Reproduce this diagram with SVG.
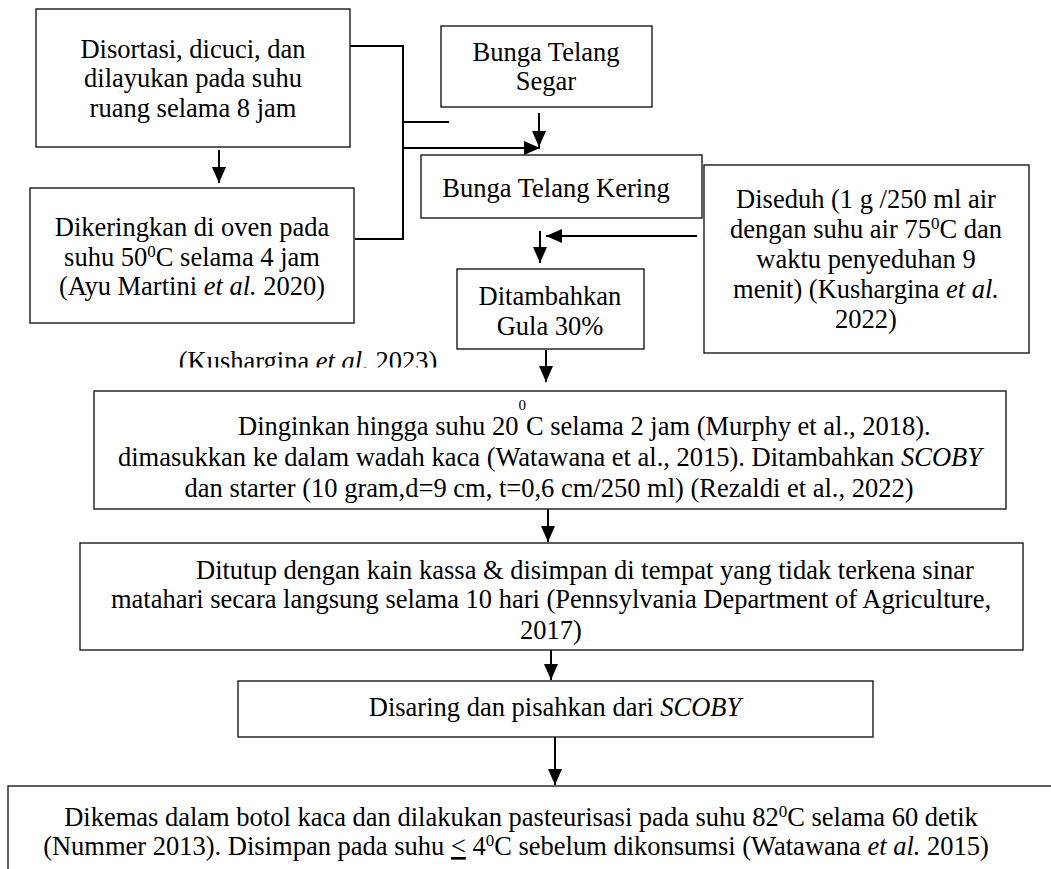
<svg xmlns="http://www.w3.org/2000/svg" width="1051" height="869" viewBox="0 0 1051 869">
<style>
.box{fill:#fff;stroke:#1a1a1a;stroke-width:1.4}
.t{font-family:'Liberation Serif','Times New Roman',serif;font-size:26.5px;fill:#000}
.m{text-anchor:middle}
.i{font-style:italic}
.c{fill:none;stroke:#000;stroke-width:2}
.sup{font-size:17px}
</style>
<defs>
<marker id="ah" markerUnits="userSpaceOnUse" markerWidth="16" markerHeight="14" refX="16" refY="7" orient="auto">
<path d="M0,0 L16,7 L0,14 z" fill="#000"/>
</marker>
<clipPath id="kclip"><rect x="0" y="340" width="500" height="27.5"/></clipPath>
</defs>
<rect width="1051" height="869" fill="#fff"/>

<g id="n1">
<rect class="box" x="36" y="9" width="314" height="138"/>
<text class="t m" x="193" y="58">Disortasi, dicuci, dan</text>
<text class="t m" x="193" y="87">dilayukan pada suhu</text>
<text class="t m" x="193" y="117">ruang selama 8 jam</text>
</g>

<g id="n2">
<rect class="box" x="30" y="188" width="324" height="135"/>
<text class="t m" x="192" y="236">Dikeringkan di oven pada</text>
<text class="t m" x="192" y="266">suhu 50<tspan class="sup" dy="-9">0</tspan><tspan dy="9">C selama 4 jam</tspan></text>
<text class="t m" x="192" y="295">(Ayu Martini <tspan class="i">et al.</tspan> 2020)</text>
</g>

<g id="n3">
<rect class="box" x="441" y="26" width="211" height="81"/>
<text class="t m" x="546" y="61">Bunga Telang</text>
<text class="t m" x="546" y="90">Segar</text>
</g>

<g id="n4">
<rect class="box" x="421" y="155" width="281" height="63"/>
<text class="t m" x="556" y="197">Bunga Telang Kering</text>
</g>

<g id="n5">
<rect class="box" x="704" y="165" width="325" height="188"/>
<text class="t m" x="866" y="208">Diseduh (1 g /250 ml air</text>
<text class="t m" x="866" y="238">dengan suhu air 75<tspan class="sup" dy="-9">0</tspan><tspan dy="9">C dan</tspan></text>
<text class="t m" x="866" y="268">waktu penyeduhan 9</text>
<text class="t m" x="866" y="298">menit) (Kushargina <tspan class="i">et al.</tspan></text>
<text class="t m" x="866" y="328">2022)</text>
</g>

<g id="n6">
<rect class="box" x="457" y="269" width="187" height="80"/>
<text class="t m" x="550" y="305">Ditambahkan</text>
<text class="t m" x="550" y="335">Gula 30%</text>
</g>

<g id="n7">
<text class="t m" x="308" y="370" clip-path="url(#kclip)">(Kushargina <tspan class="i">et al.</tspan> 2023)</text>
</g>

<g id="n8">
<rect class="box" x="94" y="391" width="912" height="118"/>
<text class="t" x="238" y="435">Dinginkan hingga suhu 20<tspan font-size="15" dy="-25">0</tspan><tspan dy="25">C selama 2 jam (Murphy et al., 2018).</tspan></text>
<text class="t m" x="550" y="466">dimasukkan ke dalam wadah kaca (Watawana et al., 2015). Ditambahkan <tspan class="i">SCOBY</tspan></text>
<text class="t m" x="549" y="497">dan starter (10 gram,d=9 cm, t=0,6 cm/250 ml) (Rezaldi et al., 2022)</text>
</g>

<g id="n9">
<rect class="box" x="80" y="543" width="943" height="107"/>
<text class="t" x="196" y="579">Ditutup dengan kain kassa &amp; disimpan di tempat yang tidak terkena sinar</text>
<text class="t m" x="551" y="608">matahari secara langsung selama 10 hari (Pennsylvania Department of Agriculture,</text>
<text class="t m" x="551" y="639">2017)</text>
</g>

<g id="n10">
<rect class="box" x="238" y="681" width="635" height="56"/>
<text class="t m" x="555" y="716">Disaring dan pisahkan dari <tspan class="i">SCOBY</tspan></text>
</g>

<g id="n11">
<rect class="box" x="8" y="786" width="1060" height="100"/>
<text class="t m" x="521" y="826">Dikemas dalam botol kaca dan dilakukan pasteurisasi pada suhu 82<tspan class="sup" dy="-9">0</tspan><tspan dy="9">C selama 60 detik</tspan></text>
<text class="t m" x="516" y="855">(Nummer 2013). Disimpan pada suhu <tspan text-decoration="underline">&lt;</tspan> 4<tspan class="sup" dy="-9">0</tspan><tspan dy="9">C sebelum dikonsumsi (Watawana </tspan><tspan class="i">et al.</tspan> 2015)</text>
</g>

<g id="connectors">
<line class="c" x1="219" y1="150" x2="219" y2="183" marker-end="url(#ah)"/>
<polyline class="c" points="350,46 403,46 403,239 355,239"/>
<line class="c" x1="403" y1="122" x2="449" y2="122"/>
<line class="c" x1="403" y1="148" x2="540" y2="148" marker-end="url(#ah)"/>
<line class="c" x1="539" y1="113" x2="539" y2="147" marker-end="url(#ah)"/>
<line class="c" x1="697" y1="236" x2="546" y2="236" marker-end="url(#ah)"/>
<line class="c" x1="540" y1="231" x2="540" y2="263" marker-end="url(#ah)"/>
<line class="c" x1="546" y1="350" x2="546" y2="382" marker-end="url(#ah)"/>
<line class="c" x1="548" y1="509" x2="548" y2="542" marker-end="url(#ah)"/>
<line class="c" x1="551" y1="650" x2="551" y2="680" marker-end="url(#ah)"/>
<line class="c" x1="555" y1="737" x2="555" y2="785" marker-end="url(#ah)"/>
</g>
</svg>
